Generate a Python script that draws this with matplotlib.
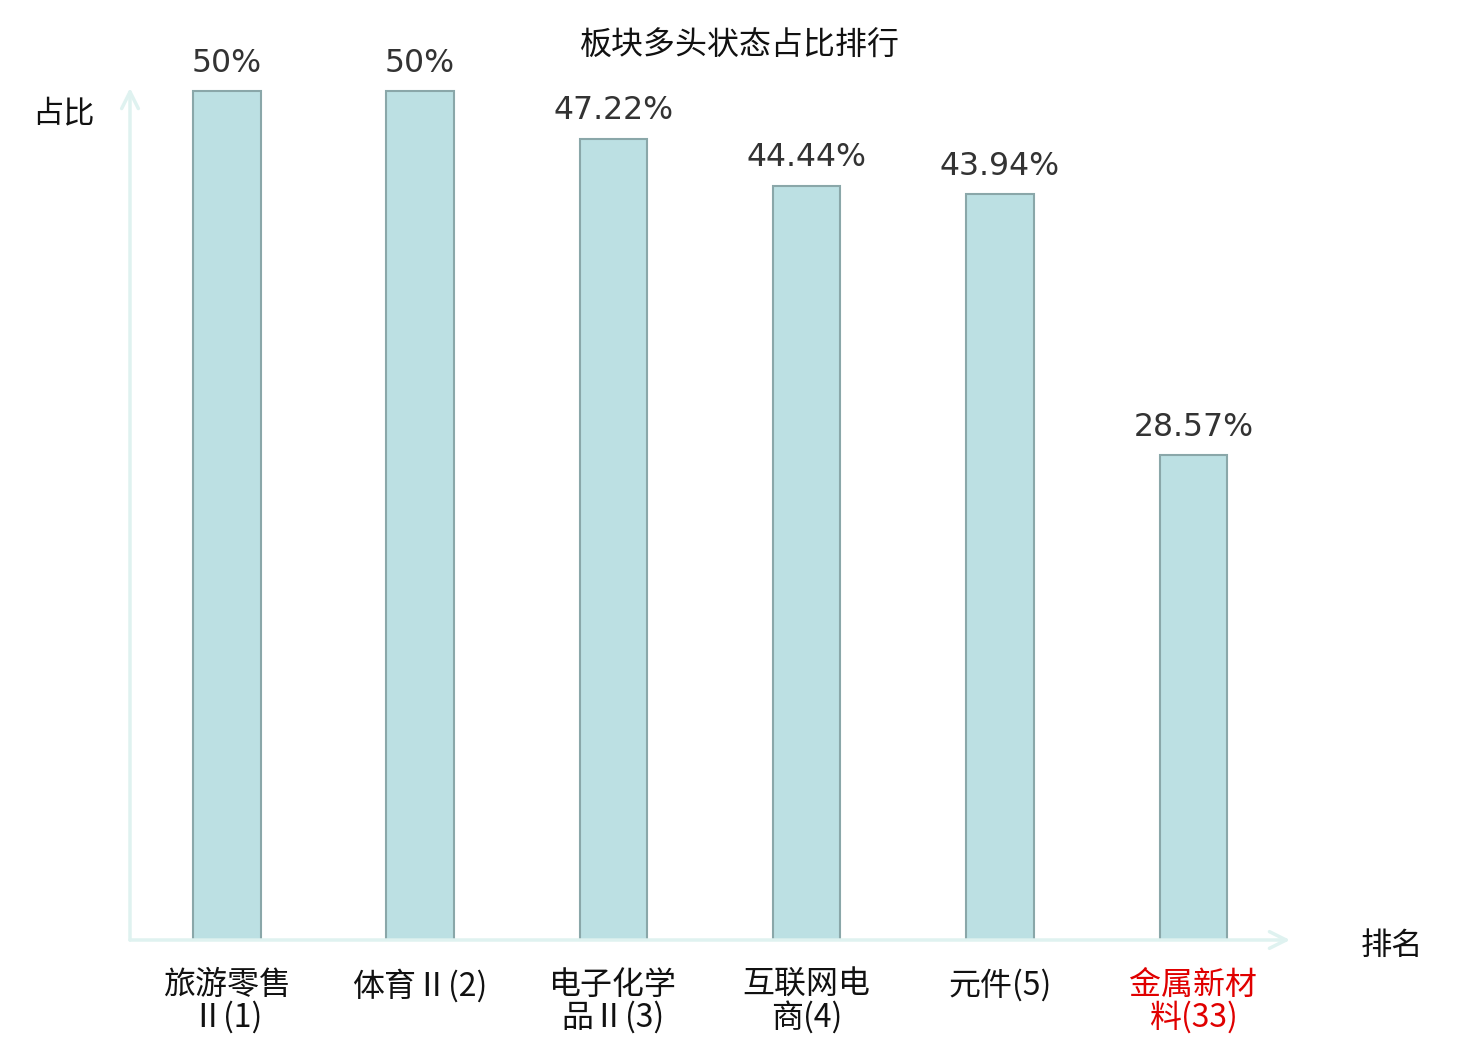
import matplotlib
matplotlib.use("Agg")
import matplotlib.pyplot as plt

plt.rcParams['font.family'] = ['Noto Sans CJK SC', 'DejaVu Sans']

# data
categories = ["旅游零售\nⅡ(1)", "体育Ⅱ(2)", "电子化学\n品Ⅱ(3)", "互联网电\n商(4)", "元件(5)", "金属新材\n料(33)"]
values = [50, 50, 47.22, 44.44, 43.94, 28.57]
value_labels = ["50%", "50%", "47.22%", "44.44%", "43.94%", "28.57%"]
highlight = [False, False, False, False, False, True]

axis_color = "#dff2f0"
bar_color = "#bce0e3"
edge_color = "#8aa7a9"

fig = plt.figure(figsize=(14.8, 10.4), dpi=100)
ax = fig.add_axes([130 / 1480, 100 / 1040, 1160 / 1480, 852 / 1040])

x = list(range(len(values)))
ax.bar(x, values, width=0.35, color=bar_color, edgecolor=edge_color, linewidth=1.5)
for xi, v, lab in zip(x, values, value_labels):
    ax.annotate(lab, (xi, v), xytext=(0, 9), textcoords="offset points",
                ha="center", va="bottom", fontsize=22.7, color="#333333",
                fontfamily="DejaVu Sans")

ax.set_xlim(-0.5, 5.5)
ax.set_ylim(0, 50.2)
for s in ax.spines.values():
    s.set_visible(False)
ax.set_yticks([])
ax.set_xticks(x)
ax.set_xticklabels(categories, fontsize=23, linespacing=0.98)
ax.tick_params(axis="x", length=0, pad=21)
for t, h in zip(ax.get_xticklabels(), highlight):
    t.set_color("#e00000" if h else "#111111")

# axis arrows
ax.annotate("", xy=(0, 1.0), xytext=(0, 0), xycoords="axes fraction",
            arrowprops=dict(arrowstyle="->", color=axis_color, lw=2.5,
                            mutation_scale=30, shrinkA=0, shrinkB=0))
ax.annotate("", xy=(1.0, 0), xytext=(0, 0), xycoords="axes fraction",
            arrowprops=dict(arrowstyle="->", color=axis_color, lw=2.5,
                            mutation_scale=30, shrinkA=0, shrinkB=0))

fig.text(740 / 1480, 1 - 46 / 1040, "板块多头状态占比排行", ha="center", va="center",
         fontsize=23, color="#111111")
fig.text(63 / 1480, 1 - 113 / 1040, "占比", ha="center", va="center",
         fontsize=22.5, color="#111111")
fig.text(1392 / 1480, 1 - 946 / 1040, "排名", ha="center", va="center",
         fontsize=22.5, color="#111111")

fig.savefig("out.png", dpi=100)
